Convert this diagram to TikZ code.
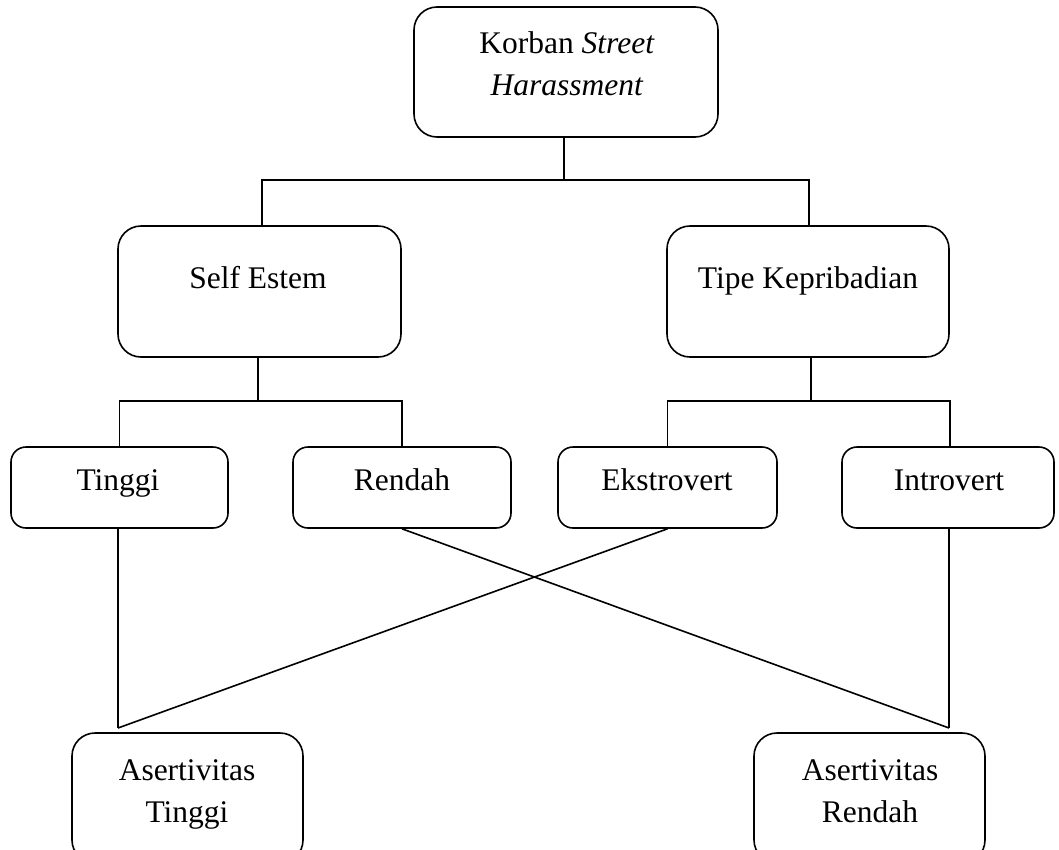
\documentclass[tikz,border=0pt]{standalone}
\usepackage{fontspec}
\setmainfont{Liberation Serif}
\begin{document}
\begin{tikzpicture}[x=1pt,y=-1pt,
  line width=1.6pt,
  bigbox/.style={draw,rectangle,rounded corners=23pt,inner sep=0pt},
  smallbox/.style={draw,rectangle,rounded corners=15pt,inner sep=0pt},
  txt/.style={anchor=base,inner sep=0pt,font=\fontsize{31.5}{42}\selectfont}]
\useasboundingbox (0,0) rectangle (1059,849);
% boxes
\node[bigbox,minimum width=304pt,minimum height=130pt] (top) at (566,72) {};
\node[bigbox,minimum width=283pt,minimum height=131pt] (self) at (259.5,291.5) {};
\node[bigbox,minimum width=282pt,minimum height=131pt] (tipe) at (808,291.5) {};
\node[smallbox,minimum width=217pt,minimum height=81pt] (tinggi) at (119.5,487.5) {};
\node[smallbox,minimum width=218pt,minimum height=81pt] (rendah) at (402,487.5) {};
\node[smallbox,minimum width=219pt,minimum height=81pt] (ekstro) at (667.5,487.5) {};
\node[smallbox,minimum width=212pt,minimum height=81pt] (intro) at (948,487.5) {};
\node[bigbox,minimum width=231pt,minimum height=130pt] (asT) at (187.5,798) {};
\node[bigbox,minimum width=231pt,minimum height=130pt] (asR) at (869.5,798) {};
% texts
\node[txt] (topA) at (567,53) {Korban \textit{Street}};
\node[txt] (topB) at (567,95) {\textit{Harassment}};
\node[txt] (selfT) at (258,288) {Self Estem};
\node[txt] (tipeT) at (808,288) {Tipe Kepribadian};
\node[txt] (tinggiT) at (118,490) {Tinggi};
\node[txt] (rendahT) at (402,490) {Rendah};
\node[txt] (ekstroT) at (667,490) {Ekstrovert};
\node[txt] (introT) at (949,490) {Introvert};
\node[txt] (asTa) at (187,780) {Asertivitas};
\node[txt] (asTb) at (187,822) {Tinggi};
\node[txt] (asRa) at (870,780) {Asertivitas};
\node[txt] (asRb) at (870,822) {Rendah};
% junctions
\coordinate (j1) at (564,180);
\coordinate (j2) at (258,401);
\coordinate (j3) at (811,401);
\coordinate (cT) at (118,728);
\coordinate (cR) at (949,728);
% connectors
\draw (top.south -| j1) -- (j1);
\draw ([xshift=2.5pt]self.north) |- (j1) -| ([xshift=1pt]tipe.north);
\draw (self.south -| j2) -- (j2);
\draw (tinggi.north) |- (j2) -| (rendah.north);
\draw (tipe.south -| j3) -- (j3);
\draw (ekstro.north) |- (j3) -| ([xshift=2pt]intro.north);
\draw (tinggi.south -| cT) -- (cT);
\draw (ekstro.south) -- (cT);
\draw (rendah.south) -- (cR);
\draw (intro.south -| cR) -- (cR);
\end{tikzpicture}
\end{document}
